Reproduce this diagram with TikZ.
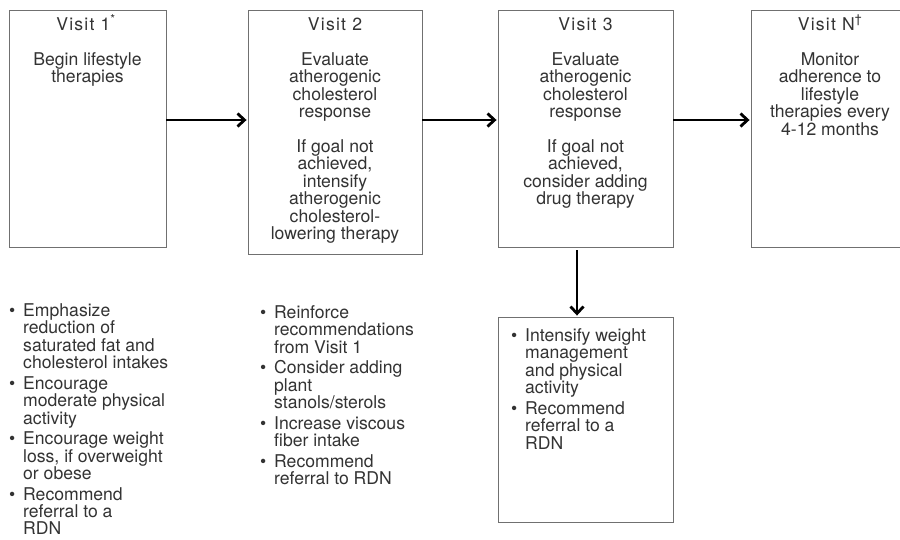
\documentclass[tikz,border=0pt]{standalone}
\usepackage{fontspec}
\setmainfont{TeX Gyre Heros}
\usepackage{enumitem}
\usetikzlibrary{arrows.meta}
\definecolor{txt}{HTML}{333333}
\definecolor{edge}{HTML}{707070}
\tikzset{
  box/.style={draw=edge, line width=0.9pt, inner sep=0pt},
  ttl/.style={anchor=base, inner sep=0pt, text=txt, font=\fontsize{17.6}{17.4}\selectfont\addfontfeature{LetterSpace=7}},
  body/.style={anchor=north, inner sep=0pt, align=center, text=txt, font=\fontsize{17.6}{17.4}\selectfont},
  lst/.style={anchor=north west, inner sep=0pt, text=txt, font=\fontsize{17.6}{17.4}\selectfont},
  arr/.style={line width=1.7pt, -{Straight Barb[length=7pt,width=13pt,line width=2.8pt]}, shorten >=1pt}
}
\newcommand{\mylist}[2]{\begin{minipage}[t]{#1}\raggedright
\begin{itemize}[label=\textbullet, leftmargin=14pt, labelindent=0pt, labelwidth=8pt, labelsep=6pt, align=left, topsep=0pt, partopsep=0pt, parsep=0pt, itemsep=3.2pt]
#2
\end{itemize}\end{minipage}}
\begin{document}
\begin{tikzpicture}[x=1pt,y=-1pt]
\useasboundingbox (0,0) rectangle (900,539);
\clip (0,0) rectangle (900,539);
\fill[white] (0,0) rectangle (900,539);
% boxes
\node[box, minimum width=157pt, minimum height=237pt] (v1) at (87.5,128.5) {};
\node[box, minimum width=174pt, minimum height=244pt] (v2) at (335,132) {};
\node[box, minimum width=175pt, minimum height=237pt] (v3) at (585.5,128.5) {};
\node[box, minimum width=158pt, minimum height=237pt] (vn) at (830,128.5) {};
\node[box, minimum width=175pt, minimum height=205pt] (b4) at (585.5,419.5) {};
% titles
\node[ttl] (t1) at (86,30) {Visit 1\textsuperscript{*}};
\node[ttl] (t2) at (335,30) {Visit 2};
\node[ttl] (t3) at (585.5,30) {Visit 3};
\node[ttl] (tn) at (830,30) {Visit N\textsuperscript{\dag}};
% bodies
\node[body] (c1) at (87.5,52.5) {Begin lifestyle\\therapies};
\node[body] (c2) at (335,52.5) {Evaluate\\atherogenic\\cholesterol\\response\\[17.4pt]If goal not\\achieved,\\intensify\\atherogenic\\cholesterol-\\lowering therapy};
\node[body] (c3) at (585.5,52.5) {Evaluate\\atherogenic\\cholesterol\\response\\[17.4pt]If goal not\\achieved,\\consider adding\\drug therapy};
\node[body] (cn) at (830,52.5) {Monitor\\adherence to\\lifestyle\\therapies every\\4-12 months};
% arrows
\draw[arr] (v1.east |- 0,120) -- (v2.west |- 0,120);
\draw[arr] (v2.east |- 0,120) -- (v3.west |- 0,120);
\draw[arr] (v3.east |- 0,120) -- (vn.west |- 0,120);
\draw[arr] ([xshift=-8.5pt,yshift=-3pt]v3.south) -- ([xshift=-8.5pt]b4.north);
% lists
\node[lst] (l1) at (9,303.5) {\mylist{180pt}{
\item Emphasize\\reduction of\\saturated fat and\\cholesterol intakes
\item Encourage\\moderate physical\\activity
\item Encourage weight\\loss, if overweight\\or obese
\item Recommend\\referral to a\\RDN}};
\node[lst] (l2) at (260,305.5) {\mylist{180pt}{
\item Reinforce\\recommendations\\from Visit 1
\item Consider adding\\plant\\stanols/sterols
\item Increase viscous\\fiber intake
\item Recommend\\referral to RDN}};
\node[lst] (l3) at (511,328.5) {\mylist{160pt}{
\item Intensify weight\\management\\and physical\\activity
\item Recommend\\referral to a\\RDN}};
\end{tikzpicture}
\end{document}
